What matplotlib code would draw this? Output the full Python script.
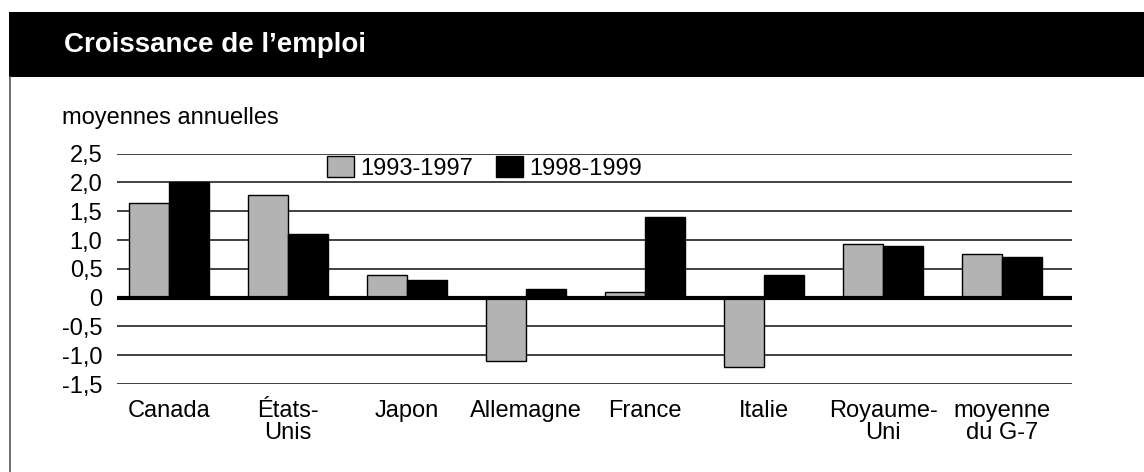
import matplotlib
matplotlib.use('Agg')
import matplotlib.pyplot as plt
import numpy as np
from matplotlib.patches import Rectangle
from matplotlib.lines import Line2D

plt.rcParams['font.family'] = ['Liberation Sans', 'DejaVu Sans']

categories = ['Canada', 'États-\nUnis', 'Japon', 'Allemagne', 'France',
              'Italie', 'Royaume-\nUni', 'moyenne\ndu G-7']
series_names = ['1993-1997', '1998-1999']
values_9397 = [1.65, 1.78, 0.40, -1.10, 0.10, -1.20, 0.93, 0.75]
values_9899 = [2.00, 1.10, 0.30, 0.15, 1.40, 0.40, 0.90, 0.70]
yticks = [-1.5, -1.0, -0.5, 0, 0.5, 1.0, 1.5, 2.0, 2.5]
ytick_labels = ['-1,5', '-1,0', '-0,5', '0', '0,5', '1,0', '1,5', '2,0', '2,5']

W, H = 1144, 472
FS = 17
fig = plt.figure(figsize=(W / 100, H / 100), dpi=100)

# header band and left frame line
fig.patches.append(Rectangle((9 / W, 1 - 77 / H), 1 - 9 / W, 65 / H,
                             transform=fig.transFigure, facecolor='black',
                             edgecolor='none'))
fig.lines.append(Line2D([9.5 / W, 9.5 / W], [0, 1 - 77 / H],
                        transform=fig.transFigure, color='#555555', lw=1.2))
fig.text(64 / W, 1 - 45 / H, 'Croissance de l\u2019emploi', color='white',
         fontsize=20, fontweight='bold', va='center', ha='left',
         family=['Liberation Sans Narrow', 'Liberation Sans'])
fig.text(62 / W, 1 - 118 / H, 'moyennes annuelles', fontsize=FS,
         va='center', ha='left')

ax = fig.add_axes([117 / W, 1 - 384 / H, 955 / W, (384 - 153.7) / H])
x = np.arange(len(categories))
bw = 0.336
ax.bar(x - bw / 2, values_9397, bw, color='#b3b3b3', edgecolor='black',
       linewidth=1.0, label=series_names[0], zorder=2)
ax.bar(x + bw / 2, values_9899, bw, color='black', edgecolor='black',
       linewidth=1.0, label=series_names[1], zorder=2)

ax.set_xlim(-0.437, 7.588)
ax.set_ylim(-1.5, 2.5)
ax.set_yticks(yticks)
ax.set_yticklabels(ytick_labels)
ax.set_xticks(x)
ax.set_xticklabels(categories, linespacing=1.02)
ax.tick_params(length=0, labelsize=FS)
ax.tick_params(axis='y', pad=10.5)
ax.tick_params(axis='x', pad=11.5)
for s in ax.spines.values():
    s.set_visible(False)
for t in yticks:
    if t != 0:
        ax.axhline(t, color='#333333', lw=1.3, zorder=1)
ax.axhline(0, color='black', lw=3, zorder=3)

ax.legend(loc='upper left', bbox_to_anchor=(0.22, 0.988), ncol=2,
          frameon=False, fontsize=FS, borderpad=0, borderaxespad=0,
          handlelength=1.14, handleheight=0.93, handletextpad=0.25,
          columnspacing=1.0)

fig.savefig('out.png', dpi=100)
